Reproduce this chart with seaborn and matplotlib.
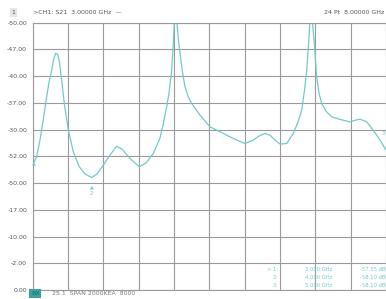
import matplotlib
matplotlib.use("Agg")
import matplotlib.pyplot as plt
import seaborn as sns
import pandas as pd
import numpy as np

# Trace (frequency in GHz, level in grid divisions from bottom)
freq_ghz = [3.000, 3.011, 3.054, 3.103, 3.153, 3.198, 3.231, 3.269, 3.294, 3.325,
            3.354, 3.379, 3.410, 3.450, 3.504, 3.575, 3.659, 3.740, 3.835, 3.910,
            3.999, 4.094, 4.189, 4.264, 4.377, 4.448, 4.509, 4.603, 4.707, 4.801,
            4.844, 4.896, 4.929, 4.967, 4.993, 5.007, 5.035, 5.056, 5.085, 5.120,
            5.155, 5.198, 5.250, 5.368, 5.510, 5.651, 5.792, 5.905, 6.004, 6.122,
            6.202, 6.287, 6.358, 6.429, 6.500, 6.595, 6.688, 6.755, 6.807, 6.847,
            6.878, 6.903, 6.925, 6.953, 6.988, 7.019, 7.052, 7.090, 7.151, 7.232,
            7.349, 7.491, 7.576, 7.632, 7.727, 7.820, 7.915, 8.000]
level_div = [5.05, 4.75, 4.97, 5.61, 6.43, 7.23, 7.78, 8.22, 8.60, 8.85,
             8.82, 8.52, 7.85, 6.92, 5.98, 5.17, 4.61, 4.34, 4.21, 4.34,
             4.67, 5.05, 5.38, 5.27, 4.92, 4.75, 4.61, 4.75, 5.11, 5.68,
             6.17, 6.85, 7.36, 8.22, 9.35, 10.2, 10.2, 9.53, 8.85, 8.15,
             7.60, 7.25, 6.98, 6.54, 6.10, 5.92, 5.73, 5.59, 5.48, 5.61,
             5.76, 5.86, 5.79, 5.61, 5.46, 5.48, 5.86, 6.28, 6.73, 7.48,
             8.22, 9.16, 10.1, 10.2, 9.16, 7.97, 7.36, 6.98, 6.69, 6.48,
             6.38, 6.29, 6.36, 6.39, 6.29, 5.98, 5.61, 5.23]

y_tick_labels = ["0.00", "-2.00", "-10.00", "-17.00", "-50.00", "-52.00",
                 "-30.00", "-37.00", "-40.00", "-47.00", "-50.00"]

marker_ids = ["1", "2", "3"]
marker_freq = ["3.000 GHz", "4.000 GHz", "5.000 GHz"]
marker_val = ["-57.55 dB", "-58.10 dB", "-58.10 dB"]

header_left = ">CH1: S21  3.00000 GHz"
header_right = "24 Pt  8.00000 GHz"
footer_text = "25.1  SPAN 2000KEA  8000"

TEAL = "#72c9c9"
GRID = "#9a9a9a"

df = pd.DataFrame({"freq": freq_ghz, "level": level_div})

sns.set_style("white")
fig = plt.figure(figsize=(3.86, 2.99), dpi=100)
ax = fig.add_axes([0.0847, 0.0301, 0.9153, 0.894])

sns.lineplot(data=df, x="freq", y="level", ax=ax, color=TEAL, linewidth=0.9,
             sort=False)

ax.set_xlim(3.0, 8.0)
ax.set_ylim(0, 10)
ax.set_xticks(np.arange(3.0, 8.01, 0.5))
ax.set_yticks(range(11))
ax.set_yticklabels(y_tick_labels, fontsize=4.5, color="#555555")
ax.set_xticklabels([])
ax.tick_params(axis="y", length=2, pad=2, color=GRID)
ax.tick_params(axis="x", length=0)
ax.grid(True, color=GRID, linewidth=0.8)
ax.set_xlabel("")
ax.set_ylabel("")
for s in ax.spines.values():
    s.set_color(GRID)
    s.set_linewidth(0.8)

# marker annotations
ax.text(3.835, 3.95, "\u25b2", color=TEAL, fontsize=3.5, ha="center", va="top")
ax.text(3.835, 3.70, marker_ids[1], color=TEAL, fontsize=4, ha="center", va="top")
ax.text(3.01, 4.85, "\u25b2", color=TEAL, fontsize=3.5, ha="center", va="top")
ax.text(7.99, 5.85, marker_ids[2], color=TEAL, fontsize=4, ha="right", va="center")

# marker table (bottom right)
rows_y = [0.78, 0.47, 0.16]
for i, yv in enumerate(rows_y):
    prefix = "> " if i == 0 else ""
    ax.text(6.47, yv, prefix + marker_ids[i] + ":", color=TEAL, fontsize=3.8,
            ha="right", va="center")
    ax.text(7.05, yv, marker_freq[i], color=TEAL, fontsize=3.8,
            ha="center", va="center")
    ax.text(7.99, yv, marker_val[i], color=TEAL, fontsize=3.8,
            ha="right", va="center")

# header
fig.text(0.030, 0.958, "1", fontsize=4.5, color="#555555", ha="left", va="center",
         bbox=dict(boxstyle="square,pad=0.3", fc="#e6e6e6", ec="none"))
fig.text(0.085, 0.958, header_left + "  \u2014", fontsize=4.5, color="#555555",
         ha="left", va="center")
fig.text(0.995, 0.958, header_right, fontsize=4.5, color="#555555",
         ha="right", va="center")

# footer
fig.text(0.080, 0.010, "BX", fontsize=4.5, color="#1e6f6f", ha="left", va="bottom",
         bbox=dict(boxstyle="square,pad=0.25", fc="#3aa0a0", ec="none"))
fig.text(0.135, 0.010, footer_text, fontsize=4.5, color="#777777",
         ha="left", va="bottom")

fig.savefig("out.png", dpi=100, facecolor="white")
